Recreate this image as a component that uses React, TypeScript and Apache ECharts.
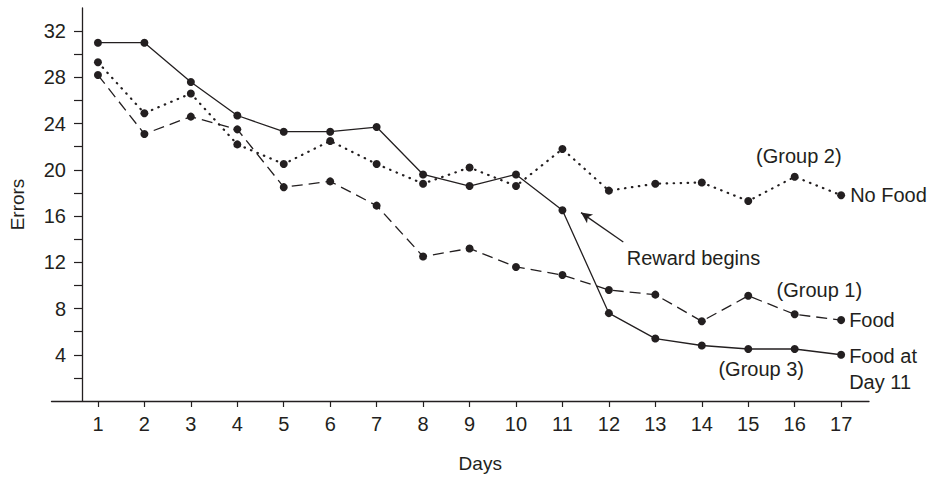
import React, { useEffect, useRef } from "react";
import * as echarts from "echarts";

// ---- data ----
const days = [1, 2, 3, 4, 5, 6, 7, 8, 9, 10, 11, 12, 13, 14, 15, 16, 17];
const group1Food = [28.2, 23.1, 24.6, 23.5, 18.5, 19.0, 16.9, 12.5, 13.2, 11.6, 10.9, 9.6, 9.2, 6.9, 9.1, 7.5, 7.0];
const group2NoFood = [29.3, 24.9, 26.6, 22.2, 20.5, 22.5, 20.5, 18.8, 20.2, 18.6, 21.8, 18.2, 18.8, 18.9, 17.3, 19.4, 17.8];
const group3FoodDay11 = [31.0, 31.0, 27.6, 24.7, 23.3, 23.3, 23.7, 19.6, 18.6, 19.6, 16.5, 7.6, 5.4, 4.8, 4.5, 4.5, 4.0];
const yTickValues = [2, 4, 6, 8, 10, 12, 14, 16, 18, 20, 22, 24, 26, 28, 30, 32];
const yLabelValues = [4, 8, 12, 16, 20, 24, 28, 32];

// annotation anchors (in data coordinates)
const groupNotes = [
  { name: "(Group 2)", coord: [16.09, 21.23] },
  { name: "(Group 1)", coord: [16.53, 9.56] },
  { name: "(Group 3)", coord: [15.28, 2.77] },
  { name: "Reward begins", coord: [13.82, 12.39] },
];
const arrowFrom = [12.31, 13.76];
const arrowTo = [11.4, 16.3];

const ink = "#231f20";
const font = "'Liberation Sans', Arial, Helvetica, sans-serif";

const pairs = (vals: number[]) => vals.map((v, i) => [days[i], v]);

export default function App() {
  const ref = useRef<HTMLDivElement>(null);
  useEffect(() => {
    const chart = echarts.init(ref.current!, null, { renderer: "svg" });
    const common = {
      type: "line",
      symbol: "circle",
      symbolSize: 8,
      showAllSymbol: true,
      itemStyle: { color: ink, borderWidth: 0 },
      silent: true,
    };
    chart.setOption({
      animation: false,
      backgroundColor: "#ffffff",
      textStyle: { fontFamily: font, color: ink },
      grid: { left: 51, right: 69, top: 8, bottom: 74, containLabel: false },
      xAxis: {
        type: "value",
        min: 0,
        max: 17.6,
        name: "Days",
        nameLocation: "middle",
        nameGap: 53,
        nameTextStyle: { fontSize: 19, color: ink, fontFamily: font, padding: [0, 0, 0, 40] },
        splitLine: { show: false },
        axisLine: { show: true, lineStyle: { color: ink, width: 1.3 } },
        axisTick: { show: true, length: 6, customValues: days, lineStyle: { color: ink, width: 1.2 } },
        axisLabel: { customValues: days, margin: 13, fontSize: 20, color: ink, fontFamily: font },
      },
      yAxis: {
        type: "value",
        min: 0,
        max: 34,
        interval: 2,
        offset: -30.5,
        name: "Errors",
        nameLocation: "middle",
        nameGap: 55,
        nameTextStyle: { fontSize: 19, color: ink, fontFamily: font },
        splitLine: { show: false },
        axisLine: { show: true, lineStyle: { color: ink, width: 1.3 } },
        axisTick: { show: true, length: 8, customValues: yTickValues, lineStyle: { color: ink, width: 1.2 } },
        axisLabel: { customValues: yLabelValues, margin: 16, fontSize: 20, color: ink, fontFamily: font },
      },
      series: [
        {
          ...common,
          name: "Group 2",
          data: pairs(group2NoFood),
          lineStyle: { color: ink, width: 2.2, type: [0.5, 6.5], cap: "round" },
          endLabel: { show: true, formatter: "No Food", distance: 9, fontSize: 20, color: ink, fontFamily: font },
          markPoint: {
            symbol: "circle",
            symbolSize: 0,
            silent: true,
            label: { show: true, position: "inside", formatter: "{b}", fontSize: 20, color: ink, fontFamily: font },
            data: groupNotes,
          },
        },
        {
          ...common,
          name: "Group 1",
          data: pairs(group1Food),
          lineStyle: { color: ink, width: 1.3, type: [11, 6] },
          endLabel: { show: true, formatter: "Food", distance: 8, fontSize: 20, color: ink, fontFamily: font },
        },
        {
          ...common,
          name: "Group 3",
          data: pairs(group3FoodDay11),
          lineStyle: { color: ink, width: 1.3, type: "solid" },
          endLabel: {
            show: true,
            formatter: "Food at\nDay 11",
            distance: 8,
            fontSize: 20,
            lineHeight: 26,
            offset: [0, 14],
            color: ink,
            fontFamily: font,
          },
          markLine: {
            silent: true,
            symbol: ["none", "arrow"],
            symbolSize: [8, 11],
            label: { show: false },
            lineStyle: { color: ink, width: 1.3, type: "solid", curveness: -0.3 },
            data: [[{ coord: arrowFrom }, { coord: arrowTo }]],
          },
        },
      ],
    });
    return () => chart.dispose();
  }, []);
  return (
    <div
      ref={ref}
      style={{ position: "fixed", left: 0, top: 0, width: 938, height: 478, background: "#fff" }}
    />
  );
}
